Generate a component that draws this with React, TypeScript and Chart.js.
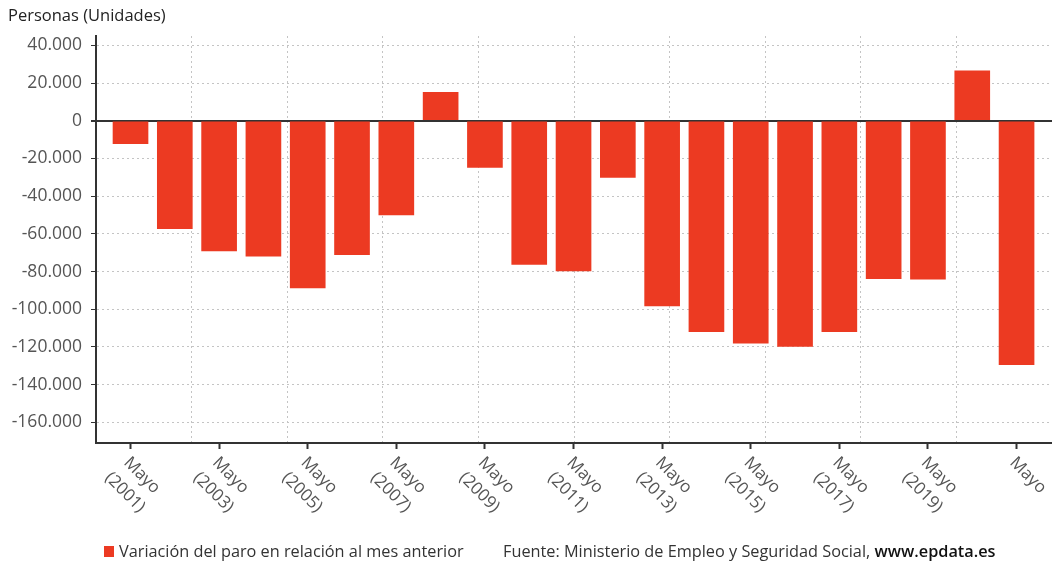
import React, { useEffect, useRef } from "react";
import { Chart, registerables } from "chart.js";

Chart.register(...registerables);

const years = ["2001","2002","2003","2004","2005","2006","2007","2008","2009","2010","2011","2012","2013","2014","2015","2016","2017","2018","2019","2020","2021"];
const values = [-12089, -57293, -68996, -71820, -88652, -71027, -49967, 15058, -24741, -76223, -79701, -30113, -98265, -111916, -117985, -119768, -111908, -83738, -84075, 26573, -129378];
const yTicks = [40000, 20000, 0, -20000, -40000, -60000, -80000, -100000, -120000, -140000, -160000];
const xTickIndexes = [0, 2, 4, 6, 8, 10, 12, 14, 16, 18, 20];
const xTickLabels: string[][] = [
  ["Mayo", "(2001)"], ["Mayo", "(2003)"], ["Mayo", "(2005)"], ["Mayo", "(2007)"], ["Mayo", "(2009)"],
  ["Mayo", "(2011)"], ["Mayo", "(2013)"], ["Mayo", "(2015)"], ["Mayo", "(2017)"], ["Mayo", "(2019)"], ["Mayo"],
];
const gridDivisions = [1, 2, 3, 4, 5, 6, 7, 8, 9];
const yAxisTitle = "Personas (Unidades)";
const seriesName = "Variación del paro en relación al mes anterior";
const sourceText = "Fuente: Ministerio de Empleo y Seguridad Social, ";
const sourceLink = "www.epdata.es";

const BAR = "#ec3a22";
const FONT = "'Open Sans', sans-serif";

function fmt(v: number): string {
  const s = String(Math.abs(v)).replace(/\B(?=(\d{3})+(?!\d))/g, ".");
  return v < 0 ? "-" + s : s;
}

const textPlugin = {
  id: "customText",
  afterDraw(chart: any) {
    const ctx = chart.ctx as CanvasRenderingContext2D;
    const xs = chart.scales.x;
    const bottom = chart.chartArea.bottom;
    ctx.save();
    // title
    ctx.fillStyle = "#222";
    ctx.font = `16.5px ${FONT}`;
    ctx.textAlign = "left";
    ctx.textBaseline = "middle";
    ctx.fillText(yAxisTitle, 8, 16);
    // x labels
    ctx.fillStyle = "#555";
    ctx.font = `17px ${FONT}`;
    xTickIndexes.forEach((idx, k) => {
      const px = xs.getPixelForValue(idx);
      const lines = xTickLabels[k];
      const c = ctx.measureText(lines[0]).width / 2;
      ctx.save();
      ctx.translate(px + 2, bottom + 11);
      ctx.rotate(Math.PI / 4);
      ctx.textAlign = "center";
      ctx.textBaseline = "top";
      lines.forEach((ln, j) => ctx.fillText(ln, c, j * 24));
      ctx.restore();
    });
    // legend
    ctx.fillStyle = BAR;
    ctx.fillRect(104, 546, 10, 11);
    ctx.fillStyle = "#333";
    ctx.font = `16.3px ${FONT}`;
    ctx.textAlign = "left";
    ctx.textBaseline = "middle";
    ctx.fillText(seriesName, 119, 552);
    ctx.fillText(sourceText, 503, 552);
    const w = ctx.measureText(sourceText).width;
    ctx.fillStyle = "#111";
    ctx.font = `600 16.3px ${FONT}`;
    ctx.fillText(sourceLink, 503 + w, 552);
    ctx.restore();
  },
};

export default function App() {
  const ref = useRef<HTMLCanvasElement>(null);
  useEffect(() => {
    if (!ref.current) return;
    const chart = new Chart(ref.current, {
      type: "bar",
      data: {
        labels: years,
        datasets: [
          {
            label: seriesName,
            data: values.map((v, i) => ({ x: i, y: v })) as any,
            backgroundColor: BAR,
            barThickness: 35,
            xAxisID: "x",
            yAxisID: "y",
          },
        ],
      },
      options: {
        responsive: false,
        devicePixelRatio: 1,
        animation: false,
        layout: { padding: { top: 36, left: 0, right: 0, bottom: 0 } },
        plugins: { legend: { display: false }, tooltip: { enabled: false } },
        scales: {
          x: {
            type: "linear",
            position: "bottom",
            offset: false,
            min: -0.779,
            max: 20.8,
            afterBuildTicks: (s: any) => {
              s.ticks = xTickIndexes.map((v) => ({ value: v }));
            },
            afterFit: (s: any) => {
              s.height = 125;
            },
            grid: { offset: false, drawOnChartArea: false, drawTicks: true, tickLength: 6, tickColor: "#333", tickWidth: 2 },
            border: { color: "#333", width: 2 },
            ticks: { callback: () => "", maxRotation: 0, autoSkip: false },
          },
          x2: {
            type: "linear",
            position: "top",
            offset: false,
            min: 0,
            max: 10,
            afterBuildTicks: (s: any) => {
              s.ticks = gridDivisions.map((v) => ({ value: v }));
            },
            afterFit: (s: any) => {
              s.height = 0;
            },
            grid: { offset: false, color: "#c4c4c4", drawTicks: false, lineWidth: 1 },
            border: { display: false, dash: [2, 3] },
            ticks: { display: false },
          },
          y: {
            min: -171000,
            max: 45000,
            afterBuildTicks: (s: any) => {
              s.ticks = yTicks.map((v) => ({ value: v }));
            },
            afterFit: (s: any) => {
              s.width = 96;
            },
            ticks: {
              color: "#555",
              font: { family: FONT, size: 17.5 },
              padding: 9,
              callback: (v: any) => fmt(Number(v)),
            },
            grid: {
              color: (c: any) => (c.tick && c.tick.value === 0 ? "#333" : "#c4c4c4"),
              lineWidth: (c: any) => (c.tick && c.tick.value === 0 ? 2 : 1),
              tickColor: "#333",
              tickLength: 5,
            },
            border: {
              color: "#333",
              width: 2,
              dash: (c: any) => (c.tick && c.tick.value === 0 ? [] : [2, 3]),
            },
          },
        },
      },
      plugins: [textPlugin],
    } as any);
    return () => chart.destroy();
  }, []);
  return (
    <div style={{ position: "fixed", left: 0, top: 0, width: 1052, height: 568, background: "#fff" }}>
      <canvas ref={ref} width={1052} height={568} style={{ display: "block", width: 1052, height: 568 }} />
    </div>
  );
}
